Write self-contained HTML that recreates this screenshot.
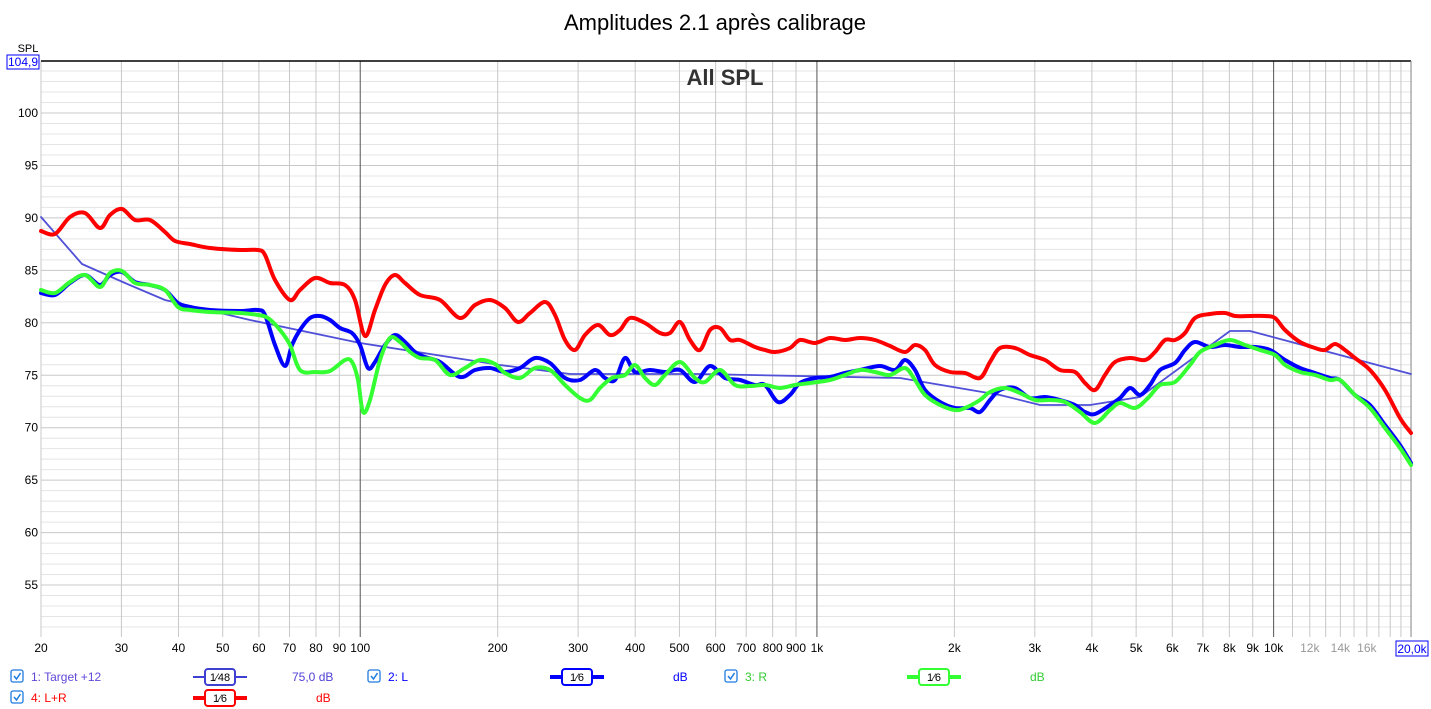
<!DOCTYPE html>
<html><head><meta charset="utf-8"><style>
body{margin:0;background:#fff;font-family:"Liberation Sans",sans-serif;}
svg{display:block}
</style></head><body>
<svg id="s" width="1431" height="709" xmlns="http://www.w3.org/2000/svg" font-family="Liberation Sans, sans-serif">
<rect width="1431" height="709" fill="#fff"/>
<g id="grid"></g>
<text x="715" y="30" font-size="22" text-anchor="middle" fill="#000">Amplitudes 2.1 après calibrage</text>
<text x="725" y="85" font-size="22" font-weight="bold" text-anchor="middle" fill="#333">All SPL</text>
<text x="28" y="52" font-size="11" text-anchor="middle" fill="#000">SPL</text>
<rect x="7" y="55" width="32" height="14" fill="#fff" stroke="#00f"/>
<text x="23" y="66" font-size="12" text-anchor="middle" fill="#00f">104,9</text>
<rect x="1396" y="641" width="32" height="15" fill="#fff" stroke="#00f"/>
<text x="1412" y="653" font-size="12" text-anchor="middle" fill="#00f">20,0k</text>
<g id="curves" fill="none" stroke-linejoin="round" stroke-linecap="round"></g>
<g font-size="12">
<g id="legend"></g>
</g>
</svg>
<script>
const NS="http://www.w3.org/2000/svg";
function el(p,t,a,txt){const e=document.createElementNS(NS,t);for(const k in a)e.setAttribute(k,a[k]);if(txt!==undefined)e.textContent=txt;p.appendChild(e);return e;}
const X=f=>41+456.7*Math.log10(f/20), Y=d=>113+(100-d)*10.49;
const g=document.getElementById('grid');
for(let d=51;d<=104;d++){el(g,'line',{x1:41,x2:1411,y1:Y(d),y2:Y(d),stroke:d%5==0?'#c8c8c8':'#e4e4e4','stroke-width':1});}
for(let d=55;d<=100;d+=5)el(g,'text',{x:38,y:Y(d)+4,'font-size':12,'text-anchor':'end',fill:'#000'},d);
let fs=[];for(let f=20;f<=100;f+=10)fs.push(f);for(let f=200;f<=1000;f+=100)fs.push(f);for(let f=2000;f<=10000;f+=1000)fs.push(f);for(let f=11000;f<=20000;f+=1000)fs.push(f);
fs.forEach(f=>{const maj=(f==100||f==1000||f==10000);el(g,'line',{x1:X(f),x2:X(f),y1:61,y2:637,stroke:maj?'#555':'#c8c8c8','stroke-width':1});});
const labs=[[20,'20'],[30,'30'],[40,'40'],[50,'50'],[60,'60'],[70,'70'],[80,'80'],[90,'90'],[100,'100'],[200,'200'],[300,'300'],[400,'400'],[500,'500'],[600,'600'],[700,'700'],[800,'800'],[900,'900'],[1000,'1k'],[2000,'2k'],[3000,'3k'],[4000,'4k'],[5000,'5k'],[6000,'6k'],[7000,'7k'],[8000,'8k'],[9000,'9k'],[10000,'10k'],[12000,'12k'],[14000,'14k'],[16000,'16k']];
labs.forEach(([f,t])=>el(g,'text',{x:X(f),y:652,'font-size':12,'text-anchor':'middle',fill:f>10000?'#999':'#000'},t));
el(g,'line',{x1:41,x2:1411,y1:61,y2:61,stroke:'#000','stroke-width':1.5});
el(g,'line',{x1:1411,x2:1411,y1:61,y2:637,stroke:'#888'});
const red=[[41,231],[55,234],[70,217],[85,213],[100,228],[110,215],[122,209],[135,220],[150,220],[165,232],[175,241],[190,244],[210,248],[240,250],[258,250],[265,255],[275,280],[290,300],[300,290],[315,278],[330,283],[345,285],[355,300],[365,336],[375,310],[385,285],[395,275],[405,283],[420,295],[440,300],[460,318],[475,305],[490,300],[505,308],[518,322],[530,313],[545,302],[555,315],[565,340],[575,350],[585,335],[598,325],[610,335],[620,330],[630,318],[645,323],[660,333],[670,333],[680,322],[690,340],[700,350],[710,330],[720,328],[730,340],[740,340],[755,347],[765,350],[775,352],[790,348],[800,340],[815,343],[830,338],[845,340],[860,338],[875,340],[890,346],[905,352],[915,345],[925,350],[935,365],[950,372],[965,373],[980,378],[990,362],[1000,348],[1015,348],[1030,355],[1045,360],[1060,370],[1075,372],[1085,383],[1095,390],[1105,375],[1115,362],[1130,358],[1145,360],[1155,352],[1165,340],[1175,340],[1185,333],[1195,318],[1210,314],[1225,313],[1235,316],[1250,316],[1265,316],[1275,318],[1285,330],[1300,342],[1315,348],[1325,350],[1335,344],[1345,350],[1355,358],[1370,370],[1385,390],[1400,418],[1411,433]];
const blue=[[41,293],[55,295],[70,283],[85,275],[100,285],[110,275],[122,272],[135,282],[150,285],[165,290],[178,303],[190,307],[210,310],[240,311],[258,310],[265,315],[275,345],[285,366],[292,345],[300,330],[310,318],[320,316],[330,320],[340,328],[352,333],[360,345],[368,368],[375,362],[385,345],[395,335],[405,342],[415,352],[425,357],[440,362],[460,377],[475,370],[490,368],[505,372],[520,368],[535,358],[550,363],[565,378],[580,380],[595,370],[605,378],[615,380],[625,358],[635,372],[650,370],[665,372],[680,370],[695,382],[710,366],[725,378],[740,380],[755,385],[765,385],[778,402],[790,395],[800,383],[815,378],[830,377],[845,373],[860,370],[880,366],[895,370],[905,360],[915,370],[925,390],[940,402],[955,408],[970,408],[980,412],[990,400],[1000,390],[1015,388],[1030,398],[1045,397],[1060,400],[1075,405],[1085,412],[1095,414],[1110,405],[1120,398],[1130,388],[1140,395],[1150,385],[1160,370],[1175,363],[1185,350],[1195,342],[1210,347],[1225,345],[1240,347],[1255,347],[1270,350],[1285,360],[1300,368],[1315,373],[1330,378],[1340,380],[1355,395],[1370,405],[1385,425],[1400,445],[1411,463]];
const green=[[41,290],[55,293],[70,282],[85,275],[100,287],[110,273],[122,271],[135,283],[150,285],[165,290],[178,307],[190,310],[210,312],[240,313],[258,315],[268,318],[280,330],[290,345],[300,370],[315,372],[330,371],[345,360],[352,362],[358,380],[363,412],[370,400],[380,360],[390,338],[400,342],[410,352],[420,358],[435,360],[450,375],[465,368],[480,360],[495,364],[505,373],[520,378],[535,368],[550,370],[565,385],[580,398],[590,400],[600,388],[612,378],[625,375],[635,365],[645,378],[655,385],[665,375],[680,362],[695,378],[705,382],[720,370],[735,385],[750,386],[765,385],[780,388],[795,385],[810,383],[830,380],[845,375],[860,370],[875,372],[890,375],[905,368],[915,380],[925,395],[940,405],[955,410],[965,408],[980,400],[990,392],[1005,388],[1020,393],[1035,400],[1050,400],[1065,402],[1080,412],[1095,423],[1110,410],[1120,403],[1135,408],[1148,398],[1160,385],[1175,382],[1190,365],[1200,352],[1215,345],[1230,340],[1245,345],[1260,350],[1275,355],[1285,365],[1300,372],[1315,375],[1330,380],[1340,380],[1355,395],[1370,408],[1385,428],[1400,448],[1411,465]];
const tgt=[[41,217],[82,264],[125,283],[165,300],[250,320],[360,343],[500,365],[570,374],[700,374],[900,378],[1000,395],[1040,405],[1090,405],[1140,397],[1230,331],[1250,331],[1411,374]];
function smooth(p){let d='M'+p[0][0]+','+p[0][1];for(let i=0;i<p.length-1;i++){const p0=p[i-1]||p[i],p1=p[i],p2=p[i+1],p3=p[i+2]||p2;const c1x=p1[0]+(p2[0]-p0[0])/6,c1y=p1[1]+(p2[1]-p0[1])/6,c2x=p2[0]-(p3[0]-p1[0])/6,c2y=p2[1]-(p3[1]-p1[1])/6;d+=`C${c1x.toFixed(1)},${c1y.toFixed(1)} ${c2x.toFixed(1)},${c2y.toFixed(1)} ${p2[0]},${p2[1]}`;}return d;}
const c=document.getElementById('curves');
el(c,'path',{d:'M'+tgt.map(p=>p.join(',')).join('L'),stroke:'#5050d8','stroke-width':1.8});
el(c,'path',{d:smooth(red),stroke:'#f00','stroke-width':4});
el(c,'path',{d:smooth(blue),stroke:'#00f','stroke-width':4});
el(c,'path',{d:smooth(green),stroke:'#3f3','stroke-width':4});
const L=document.getElementById('legend');
function cb(x,y){el(L,'rect',{x:x,y:y,width:12,height:12,rx:2,fill:'#fff',stroke:'#1e7be0','stroke-width':1.3});el(L,'path',{d:`M${x+3},${y+6}l2.5,3l4,-6`,fill:'none',stroke:'#1e7be0','stroke-width':1.5});}
function badge(x,y,col,w,t){el(L,'line',{x1:x-12,x2:x+42,y1:y,y2:y,stroke:col,'stroke-width':w});el(L,'rect',{x:x,y:y-8,width:30,height:16,rx:3,fill:'#fff',stroke:col,'stroke-width':2});el(L,'text',{x:x+15,y:y+4,'font-size':11,'text-anchor':'middle',fill:'#000'},t);}
cb(11,670);el(L,'text',{x:31,y:681,fill:'#6048d8'},'1: Target +12');badge(205,677,'#4040d0',2,'1⁄48');el(L,'text',{x:292,y:681,fill:'#5040d8'},'75,0 dB');
cb(368,670);el(L,'text',{x:388,y:681,fill:'#00f'},'2: L');badge(562,677,'#00f',4,'1⁄6');el(L,'text',{x:673,y:681,fill:'#00f'},'dB');
cb(725,670);el(L,'text',{x:745,y:681,fill:'#3c3'},'3: R');badge(919,677,'#3f3',4,'1⁄6');el(L,'text',{x:1030,y:681,fill:'#3c3'},'dB');
cb(11,691);el(L,'text',{x:31,y:702,fill:'#f00'},'4: L+R');badge(205,698,'#f00',4,'1⁄6');el(L,'text',{x:316,y:702,fill:'#f00'},'dB');
</script>
</body></html>
